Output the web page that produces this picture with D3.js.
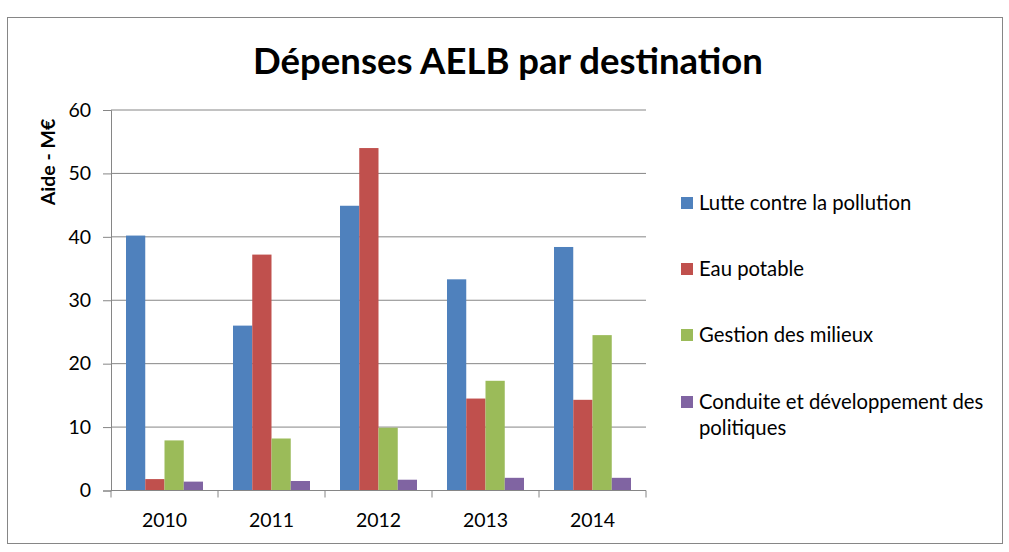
<!DOCTYPE html>
<html>
<head>
<meta charset="utf-8">
<script src="https://cdn.jsdelivr.net/npm/d3@7"></script>
<style>
  body { margin: 0; background: #fff; }
  text { font-family: Lato, "Open Sans", sans-serif; fill: #000; }
</style>
</head>
<body>
<div id="chart"></div>
<script>
// data
const years = ["2010", "2011", "2012", "2013", "2014"];
const seriesNames = ["Lutte contre la pollution", "Eau potable", "Gestion des milieux", "Conduite et développement des politiques"];
const pollution = [40.2, 26.0, 44.9, 33.3, 38.4];
const eauPotable = [1.8, 37.2, 54.0, 14.5, 14.3];
const milieux = [7.9, 8.2, 9.9, 17.3, 24.5];
const politiques = [1.4, 1.5, 1.7, 2.0, 2.0];
const yTicks = [0, 10, 20, 30, 40, 50, 60];
const colors = ["#4F81BD", "#C0504D", "#9BBB59", "#8064A2"];

const width = 1009;
const height = 552;
const plot = { left: 111, right: 646, top: 110, bottom: 490.5 };

const svg = d3.select("#chart")
  .append("svg")
  .attr("width", width)
  .attr("height", height);

// outer frame
svg.append("rect")
  .attr("x", 7.5).attr("y", 17.5)
  .attr("width", 995).attr("height", 526)
  .attr("fill", "#fff")
  .attr("stroke", "#868686");

svg.append("text")
  .attr("x", 508)
  .attr("y", 74)
  .attr("text-anchor", "middle")
  .style("font-size", "36.5px")
  .style("font-weight", "bold")
  .text("Dépenses AELB par destination");

const x0 = d3.scaleBand().domain(years).range([plot.left, plot.right]).paddingInner(0).paddingOuter(0);
const x1 = d3.scaleBand().domain(d3.range(seriesNames.length))
  .range([15, x0.bandwidth() - 15]);
const y = d3.scaleLinear().domain([0, 60]).range([plot.bottom, plot.top]);

// gridlines
svg.append("g")
  .selectAll("line")
  .data(yTicks)
  .join("line")
  .attr("x1", plot.left).attr("x2", plot.right)
  .attr("y1", d => y(d)).attr("y2", d => y(d))
  .attr("stroke", "#868686")
  .attr("stroke-width", 1);

// bars
const allSeries = [pollution, eauPotable, milieux, politiques];
const rows = years.map((yr, i) => ({ year: yr, values: allSeries.map(s => s[i]) }));

svg.append("g")
  .selectAll("g")
  .data(rows)
  .join("g")
  .attr("transform", d => `translate(${x0(d.year)},0)`)
  .selectAll("rect")
  .data(d => d.values.map((v, k) => ({ k, v })))
  .join("rect")
  .attr("x", d => x1(d.k))
  .attr("width", x1.bandwidth())
  .attr("y", d => y(d.v))
  .attr("height", d => y(0) - y(d.v))
  .attr("fill", d => colors[d.k]);

// y axis
const yAxis = svg.append("g")
  .attr("transform", `translate(${plot.left},0)`)
  .call(d3.axisLeft(y).tickValues(yTicks).tickSize(8).tickPadding(12));
yAxis.select(".domain").attr("stroke", "#868686");
yAxis.selectAll(".tick line").attr("stroke", "#868686");
yAxis.selectAll(".tick text").style("font-size", "19.5px").attr("fill", "#000");

// x axis: ticks on band edges, labels centred
const xAxis = svg.append("g")
  .attr("transform", `translate(0,${plot.bottom})`);
xAxis.append("line")
  .attr("x1", plot.left).attr("x2", plot.right)
  .attr("stroke", "#868686");
xAxis.selectAll(".edge")
  .data([...years.map(d => x0(d)), plot.right])
  .join("line")
  .attr("class", "edge")
  .attr("x1", d => d).attr("x2", d => d)
  .attr("y1", 0).attr("y2", 7)
  .attr("stroke", "#868686");
xAxis.selectAll(".lbl")
  .data(years)
  .join("text")
  .attr("class", "lbl")
  .attr("x", d => x0(d) + x0.bandwidth() / 2)
  .attr("y", 36)
  .attr("text-anchor", "middle")
  .style("font-size", "19.5px")
  .text(d => d);

// y axis title
svg.append("text")
  .attr("transform", "translate(55,162) rotate(-90)")
  .attr("text-anchor", "middle")
  .style("font-size", "19.5px")
  .style("font-weight", "bold")
  .text("Aide - M€");

// legend
const legendRows = [
  { lines: ["Lutte contre la pollution"], y: 203 },
  { lines: ["Eau potable"], y: 269 },
  { lines: ["Gestion des milieux"], y: 335 },
  { lines: ["Conduite et développement des", "politiques"], y: 402 }
];
const legend = svg.append("g");
legendRows.forEach((r, i) => {
  legend.append("rect")
    .attr("x", 681).attr("y", r.y - 6)
    .attr("width", 12).attr("height", 12)
    .attr("fill", colors[i]);
  legend.append("text")
    .attr("x", 699)
    .attr("y", r.y + 7)
    .style("font-size", "20.3px")
    .selectAll("tspan")
    .data(r.lines)
    .join("tspan")
    .attr("x", 699)
    .attr("dy", (d, j) => j === 0 ? 0 : 26)
    .text(d => d);
});
</script>
</body>
</html>
